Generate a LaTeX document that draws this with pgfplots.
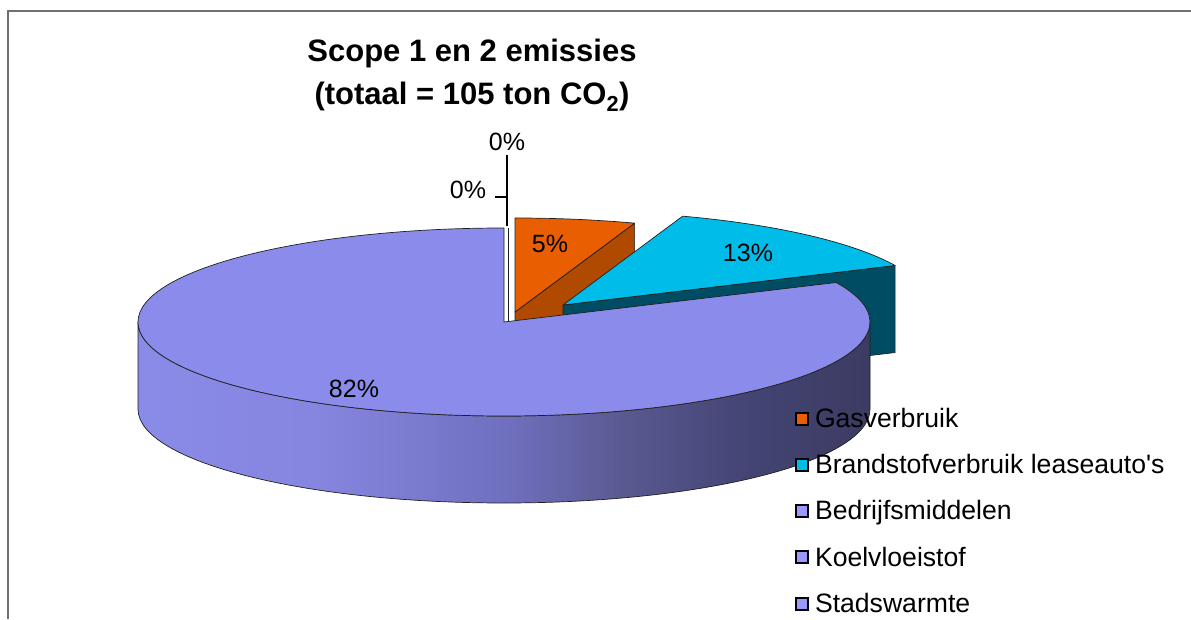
\documentclass[border=0pt]{standalone}
\usepackage{pgfplots}
\pgfplotsset{compat=1.18}
\usepackage{pgfplotstable}
\usepackage{fontspec}
\setmainfont{Liberation Sans}

\definecolor{gasC}{HTML}{E85E00}
\definecolor{gasD}{HTML}{B04A00}
\definecolor{brC}{HTML}{00BCE8}
\definecolor{brD}{HTML}{004C62}
\definecolor{bedC}{HTML}{8B8BEB}
\definecolor{legP}{HTML}{9999FF}
\definecolor{frameC}{HTML}{707070}
\definecolor{edgeC}{HTML}{202020}
\definecolor{ps1}{HTML}{8A8AE8}
\definecolor{ps2}{HTML}{8686E0}
\definecolor{ps3}{HTML}{7070C0}
\definecolor{ps4}{HTML}{5A5A92}
\definecolor{ps5}{HTML}{454576}
\definecolor{ps6}{HTML}{3B3B62}
\pgfdeclarehorizontalshading{purpside}{100bp}{color(0bp)=(ps1); color(25bp)=(ps1); color(37bp)=(ps2); color(50bp)=(ps3); color(58bp)=(ps4); color(66bp)=(ps5); color(75bp)=(ps6); color(100bp)=(ps6)}

% share of each category (percent of 105 ton CO2)
\pgfplotstableread{
name value
Gasverbruik 5.3
Brandstofverbruik 12.8
Bedrijfsmiddelen 81.9
Koelvloeistof 0
Stadswarmte 0
}\piedata

\tikzset{legsq/.style={line width=2pt, draw=black}}

\begin{document}%
\begin{tikzpicture}
\pgfplotstablegetelem{0}{value}\of\piedata \let\vGas\pgfplotsretval
\pgfplotstablegetelem{1}{value}\of\piedata \let\vBr\pgfplotsretval
\pgfplotstablegetelem{2}{value}\of\piedata \let\vBed\pgfplotsretval
\pgfplotstablegetelem{3}{value}\of\piedata \let\vKoel\pgfplotsretval
\pgfplotstablegetelem{4}{value}\of\piedata \let\vStad\pgfplotsretval
\pgfmathsetmacro\vTot{\vGas+\vBr+\vBed+\vKoel+\vStad}
\pgfmathsetmacro\aA{90-360*\vGas/\vTot}
\pgfmathsetmacro\aB{\aA-360*\vBr/\vTot}
\pgfmathsetmacro\aBB{\aB+360}
\pgfmathtruncatemacro\lGas{round(\vGas)}
\pgfmathtruncatemacro\lBr{round(\vBr)}
\pgfmathtruncatemacro\lBed{round(\vBed)}
\pgfmathtruncatemacro\lKoel{round(\vKoel)}
\pgfmathtruncatemacro\lStad{round(\vStad)}
\begin{axis}[
  width=1191pt, height=619pt, scale only axis,
  xmin=0, xmax=1191, ymin=0, ymax=619,
  hide axis, clip=false,
  legend style={at={(axis cs:795,212.5)}, anchor=north west, draw=none, fill=none,
    inner sep=0pt, outer sep=0pt, row sep=21.7pt,
    font=\fontsize{26.6}{32}\selectfont,
    cells={anchor=west, text height=19pt, text depth=0pt, inner sep=2pt},
    /tikz/every odd column/.append style={column sep=4pt}},
  legend cell align=left,
]
% legend
\addlegendimage{legend image code/.code={\draw[legsq, fill=gasC] (1pt,-6pt) rectangle (13pt,6pt);}}
\addlegendentry{Gasverbruik}
\addlegendimage{legend image code/.code={\draw[legsq, fill=brC] (1pt,-6pt) rectangle (13pt,6pt);}}
\addlegendentry{Brandstofverbruik leaseauto\textquotesingle s}
\addlegendimage{legend image code/.code={\draw[legsq, fill=legP] (1pt,-6pt) rectangle (13pt,6pt);}}
\addlegendentry{Bedrijfsmiddelen}
\addlegendimage{legend image code/.code={\draw[legsq, fill=legP] (1pt,-6pt) rectangle (13pt,6pt);}}
\addlegendentry{Koelvloeistof}
\addlegendimage{legend image code/.code={\draw[legsq, fill=legP] (1pt,-6pt) rectangle (13pt,6pt);}}
\addlegendentry{Stadswarmte}

% frame
\draw[frameC, line width=2pt] (axis cs:8,0) -- (axis cs:8,608) -- (axis cs:1191,608);

% Gasverbruik slice (exploded)
\filldraw[fill=gasD, draw=edgeC, line width=0.7pt, line join=round]
  (axis cs:515,307) -- ++(\aA:366pt and 94pt) -- ++(0pt,-87pt) -- (axis cs:515,220) -- cycle;
\filldraw[fill=gasC, draw=edgeC, line width=0.7pt, line join=round]
  (axis cs:515,307) -- ++(0pt,94pt) arc[start angle=90, end angle=\aA, x radius=366pt, y radius=94pt] -- cycle;

% Brandstof slice (exploded)
\filldraw[fill=brD, draw=edgeC, line width=0.7pt, line join=round]
  (axis cs:563,314) -- ++(\aB:366pt and 94pt) -- ++(0pt,-87pt) -- (axis cs:563,227) -- cycle;
\filldraw[fill=brC, draw=edgeC, line width=0.7pt, line join=round]
  (axis cs:563,314) -- ++(\aA:366pt and 94pt) arc[start angle=\aA, end angle=\aB, x radius=366pt, y radius=94pt] -- cycle;

% zero slices
\draw[edgeC, line width=0.7pt] (axis cs:508,297) -- (axis cs:508,391);

% Bedrijfsmiddelen slice
\shade[shading=purpside] (axis cs:138,297) arc[start angle=180, end angle=360, x radius=366pt, y radius=94pt]
  -- ++(0pt,-87pt) arc[start angle=0, end angle=-180, x radius=366pt, y radius=94pt] -- cycle;
\draw[edgeC, line width=0.7pt, line join=round] (axis cs:138,297) arc[start angle=180, end angle=360, x radius=366pt, y radius=94pt]
  -- ++(0pt,-87pt) arc[start angle=0, end angle=-180, x radius=366pt, y radius=94pt] -- cycle;
\filldraw[fill=bedC, draw=edgeC, line width=0.7pt, line join=round]
  (axis cs:504,297) -- ++(0pt,94pt) arc[start angle=90, end angle=\aBB, x radius=366pt, y radius=94pt] -- cycle;

% leader lines for the 0% labels
\draw[black, line width=1.5pt] (axis cs:507,464) -- (axis cs:507,393);
\draw[black, line width=1.5pt] (axis cs:495,422) -- (axis cs:507,422) -- (axis cs:507,393);

% data labels
\node[font=\fontsize{25}{30}\selectfont] at (axis cs:468,429) {\lKoel\%};
\node[font=\fontsize{25}{30}\selectfont] at (axis cs:507,477) {\lStad\%};
\node[font=\fontsize{25}{30}\selectfont] at (axis cs:550,375) {\lGas\%};
\node[font=\fontsize{25}{30}\selectfont] at (axis cs:748,366) {\lBr\%};
\node[font=\fontsize{25}{30}\selectfont] at (axis cs:354,230) {\lBed\%};

% title
\node[font=\fontsize{31}{43}\selectfont\bfseries, align=center] at (axis cs:472,544)
  {Scope 1 en 2 emissies\\(totaal = 105 ton CO\textsubscript{2})};
\end{axis}
\pgfresetboundingbox
\path (0pt,0pt) rectangle (1191pt,619pt);
\end{tikzpicture}%
\end{document}
